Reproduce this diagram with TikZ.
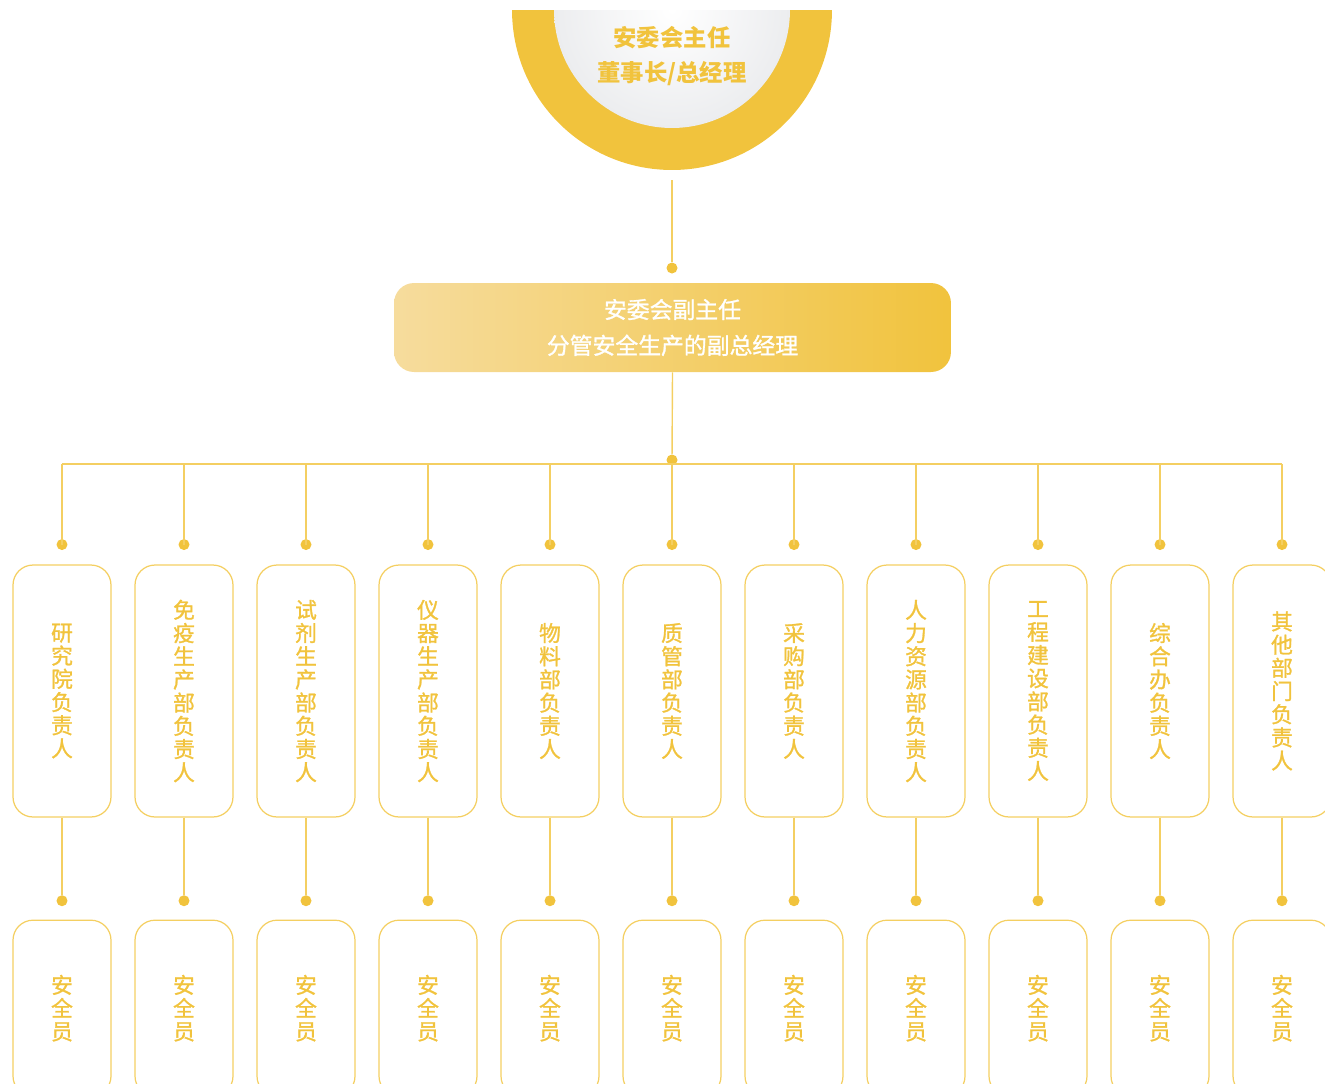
\documentclass[tikz,border=0pt]{standalone}
\usepackage{fontspec}
\setmainfont{Noto Sans CJK SC}
\newfontfamily\cjkmid[UprightFeatures={FakeBold=1.2}]{Noto Sans CJK SC}
\usepackage{xcolor}
\usetikzlibrary{positioning,calc,shapes}

\definecolor{gold}{HTML}{F1C33D}
\definecolor{goldline}{HTML}{F4CF62}
\definecolor{goldlight}{HTML}{F6DC9D}
\definecolor{silver}{HTML}{ECEDEF}

\begin{document}
\begin{tikzpicture}[
    x=0.02cm, y=-0.02cm,
    link/.style={draw=goldline, line width=0.8pt},
    dot/.style={circle, fill=gold, inner sep=0pt, minimum size=0.22cm},
    deptbox/.style={draw=goldline, line width=0.7pt, rounded corners=0.4cm, minimum width=1.96cm, minimum height=5.04cm, align=center, text=gold, font=\cjkmid\fontsize{12.4pt}{13.2pt}\selectfont},
    safebox/.style={deptbox, minimum height=3.52cm},
    vpbox/.style={rounded corners=0.4cm, minimum width=11.14cm, minimum height=1.78cm, align=center, text=white, left color=goldlight, right color=gold, font=\cjkmid\fontsize{13pt}{20.4pt}\selectfont}
]
\useasboundingbox (0,0) rectangle (1325,1083);

% chairman
\begin{scope}
\clip (0,10) rectangle (1325,1083);
\node[circle, fill=gold, minimum size=6.4cm, inner sep=0pt] (chair) at (672,10) {};
\node[circle, inner color=white, outer color=silver, minimum size=4.72cm, inner sep=0pt] (chairin) at (chair.center) {};
\end{scope}
\node[align=center, text=gold, font=\fontsize{13.3pt}{19.8pt}\selectfont\bfseries] (chairtxt) at (672,56) {安委会主任\\董事长/总经理};

% vice chairman
\node[dot] (dvice) at (672,268) {};
\node[vpbox] (vice) at (672.5,327.5) {安委会副主任\\分管安全生产的副总经理};
\node[dot] (dbus) at (672,460) {};
\coordinate (bus) at (672,464);

\draw[link] ([yshift=-0.2cm]chair.south) -- (dvice);
\draw[link] (vice.south) -- (dbus);

% department heads
\node[deptbox] (d1) at (62,691) {研\\究\\院\\负\\责\\人};
\node[deptbox] (d2) at (184,691) {免\\疫\\生\\产\\部\\负\\责\\人};
\node[deptbox] (d3) at (306,691) {试\\剂\\生\\产\\部\\负\\责\\人};
\node[deptbox] (d4) at (428,691) {仪\\器\\生\\产\\部\\负\\责\\人};
\node[deptbox] (d5) at (550,691) {物\\料\\部\\负\\责\\人};
\node[deptbox] (d6) at (672,691) {质\\管\\部\\负\\责\\人};
\node[deptbox] (d7) at (794,691) {采\\购\\部\\负\\责\\人};
\node[deptbox] (d8) at (916,691) {人\\力\\资\\源\\部\\负\\责\\人};
\node[deptbox] (d9) at (1038,691) {工\\程\\建\\设\\部\\负\\责\\人};
\node[deptbox] (d10) at (1160,691) {综\\合\\办\\负\\责\\人};
\node[deptbox] (d11) at (1282,691) {其\\他\\部\\门\\负\\责\\人};

% safety officers
\foreach \i in {1,...,11} {
    \node[safebox, below=2.04cm of d\i] (s\i) {安\\全\\员};
    \node[dot, above=0.28cm of d\i] (dd\i) {};
    \node[dot, above=0.26cm of s\i] (ds\i) {};
    \draw[link] (dd\i.center) -- (dd\i |- bus);
    \draw[link] (d\i) -- (ds\i);
}
\draw[link] (dd1 |- bus) -- (dd11 |- bus);

\end{tikzpicture}
\end{document}
